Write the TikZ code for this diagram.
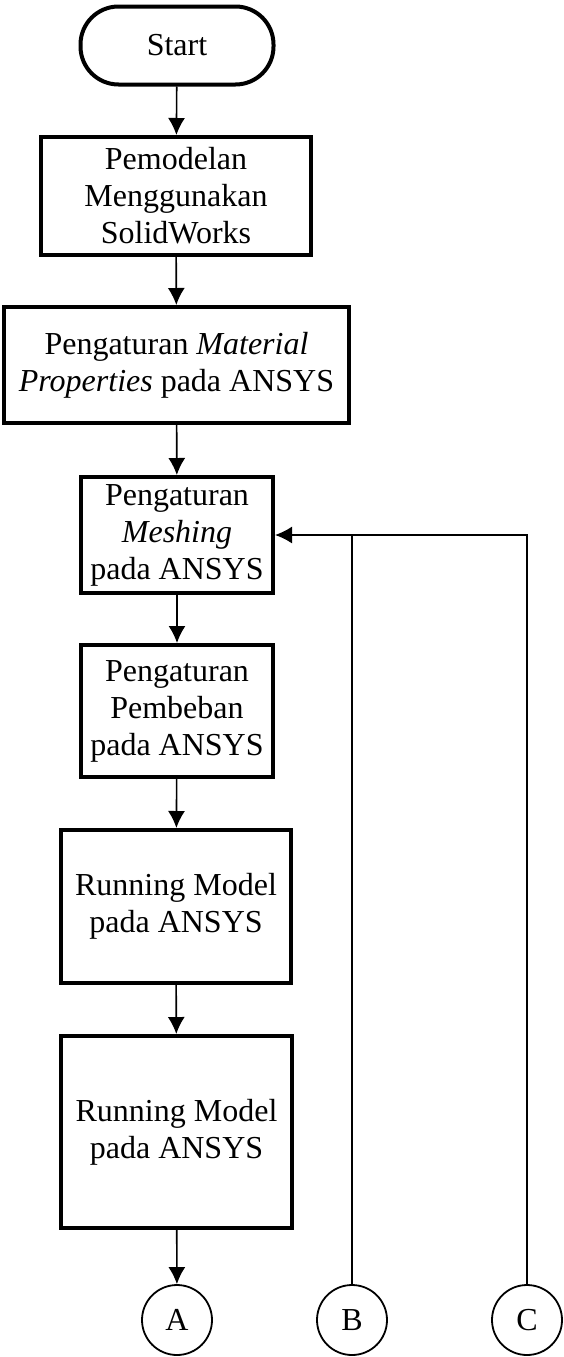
\documentclass[tikz,border=0pt]{standalone}
\usepackage{fontspec}
\setmainfont{Liberation Serif}
\usetikzlibrary{arrows.meta}

\tikzset{
	flowbox/.style={draw, line width=4pt, align=center, inner sep=0pt},
	termbox/.style={flowbox, rounded corners=38pt},
	conn/.style={draw, line width=1.8pt, circle, minimum size=70pt, inner sep=0pt},
	flow/.style={line width=1.6pt, -{Latex[length=17pt,width=17pt]}}
}

\begin{document}
\begin{tikzpicture}[x=1pt, y=-1pt, font=\fontsize{32}{37}\selectfont]
	\useasboundingbox (0,0) rectangle (563,1357);

	\node[termbox, minimum width=193pt, minimum height=78pt] (start) at (177,45.5) {Start};
	\node[flowbox, minimum width=270pt, minimum height=118pt] (model) at (176,196) {Pemodelan\\Menggunakan\\SolidWorks};
	\node[flowbox, minimum width=345pt, minimum height=116pt] (material) at (176.5,365) {Pengaturan \textit{Material}\\\textit{Properties} pada ANSYS};
	\node[flowbox, minimum width=192pt, minimum height=116pt] (mesh) at (177,535) {Pengaturan\\\textit{Meshing}\\pada ANSYS};
	\node[flowbox, minimum width=192pt, minimum height=132pt] (load) at (177,711) {Pengaturan\\Pembeban\\pada ANSYS};
	\node[flowbox, minimum width=230pt, minimum height=153pt] (runa) at (176,906.5) {Running Model\\pada ANSYS};
	\node[flowbox, minimum width=231pt, minimum height=192pt] (runb) at (176.5,1132) {Running Model\\pada ANSYS};

	\node[conn] (A) at (177,1320) {A};
	\node[conn] (B) at (352,1320) {B};
	\node[conn] (C) at (527,1320) {C};

	\draw[flow] (start) -- (model);
	\draw[flow] (model) -- (material);
	\draw[flow] (material) -- (mesh);
	\draw[flow] (mesh) -- (load);
	\draw[flow] (load) -- (runa);
	\draw[flow] (runa) -- (runb);
	\draw[flow] (runb) -- (A);

	% loop back to meshing
	\draw[flow] (C) |- (mesh);
	\draw[line width=1.6pt] (B) -- (B |- mesh.east);
\end{tikzpicture}
\end{document}
